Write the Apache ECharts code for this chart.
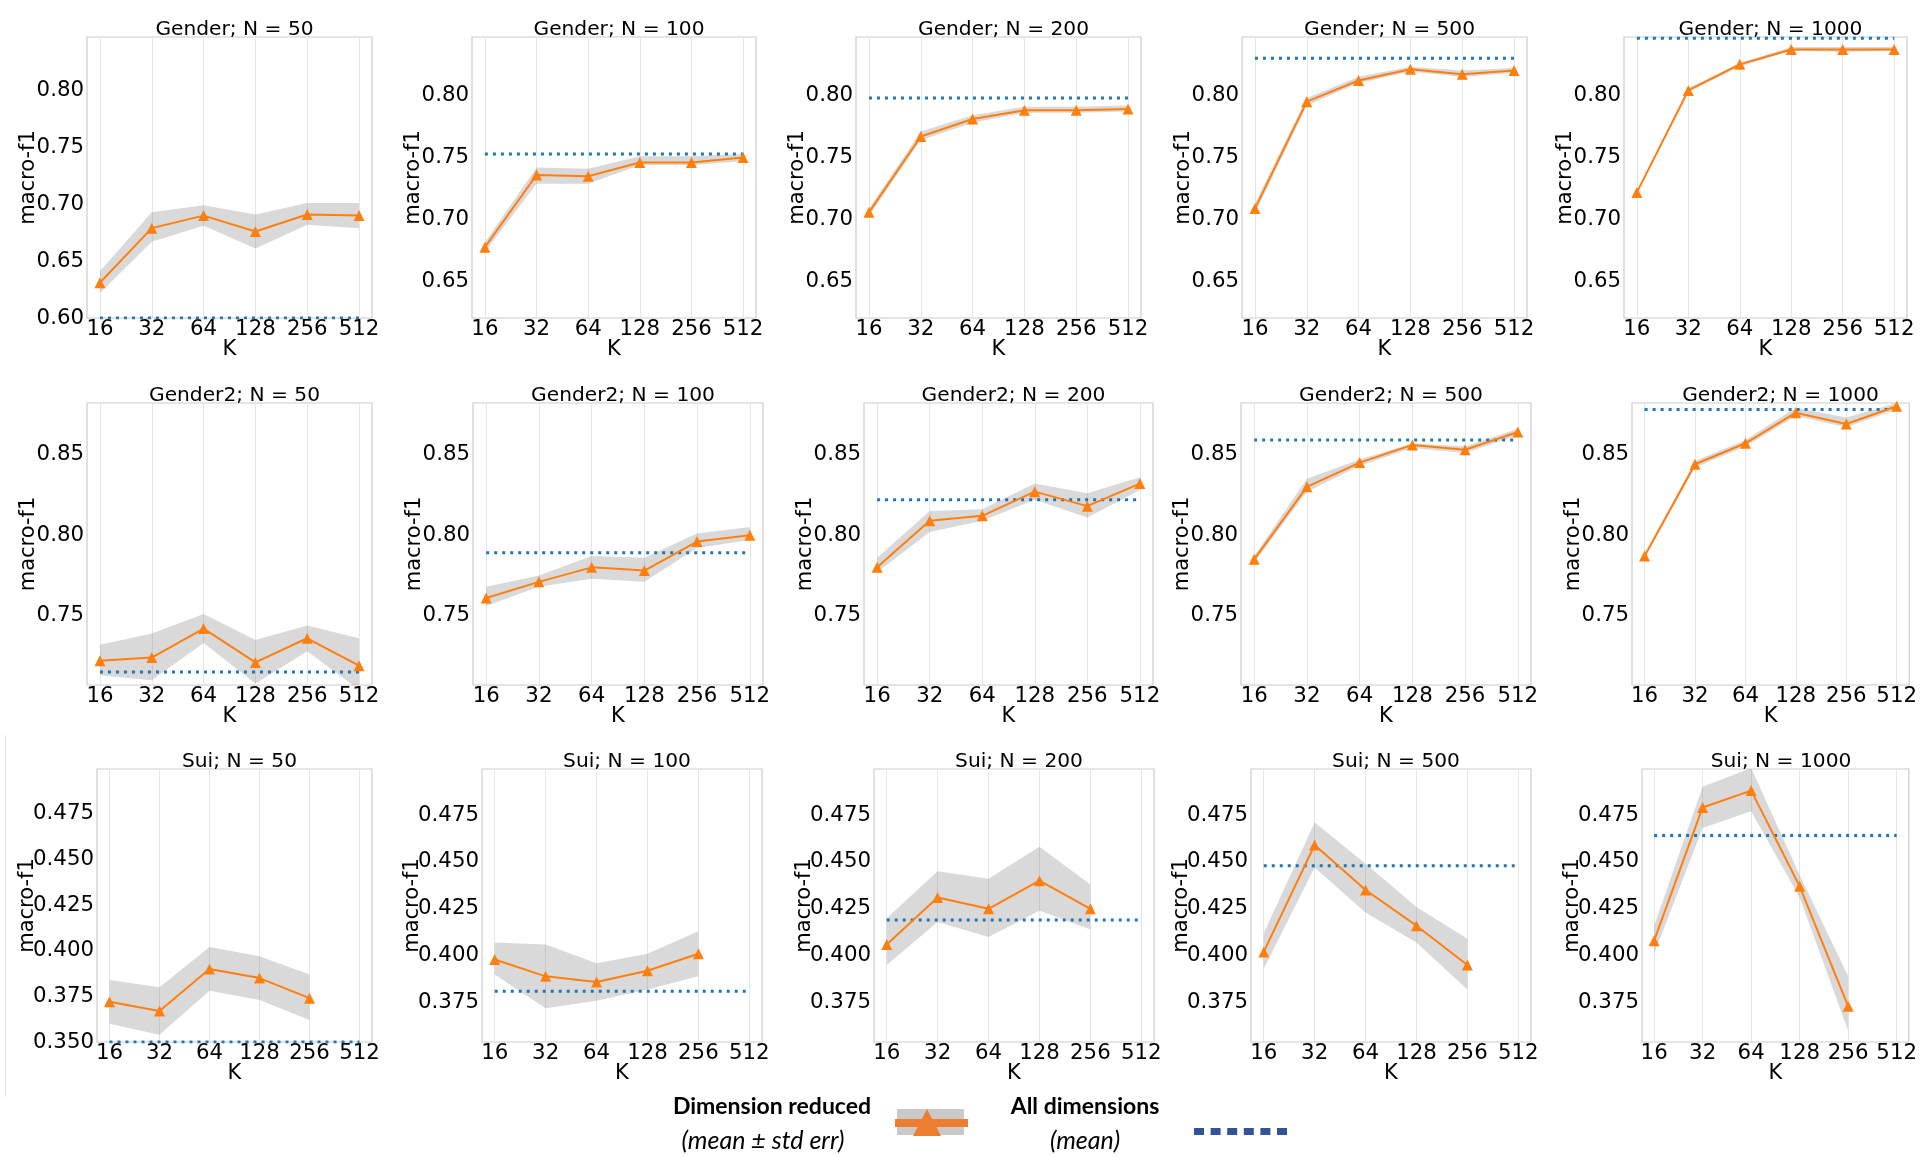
<!DOCTYPE html>
<html><head><meta charset="utf-8">
<script src="https://cdn.jsdelivr.net/npm/echarts@6/dist/echarts.min.js"></script>
<style>html,body{margin:0;padding:0;background:#fff}#chart{width:1920px;height:1157px}</style>
</head><body><div id="chart"></div>
<script>
// ---------------- data ----------------
const kValues = [16, 32, 64, 128, 256, 512];
const nValues = [50, 100, 200, 500, 1000];
const taskNames = ['Gender', 'Gender2', 'Sui'];

// Gender (rows = N 50,100,200,500,1000; cols = K)
const genderMean = [
  [0.631, 0.679, 0.690, 0.676, 0.691, 0.690],
  [0.678, 0.736, 0.735, 0.746, 0.746, 0.750],
  [0.706, 0.767, 0.781, 0.788, 0.788, 0.789],
  [0.709, 0.795, 0.812, 0.821, 0.817, 0.820],
  [0.722, 0.804, 0.825, 0.837, 0.837, 0.837]
];
const genderLow = [
  [0.622, 0.667, 0.681, 0.661, 0.682, 0.679],
  [0.674, 0.729, 0.729, 0.744, 0.744, 0.747],
  [0.703, 0.764, 0.778, 0.786, 0.786, 0.787],
  [0.705, 0.792, 0.810, 0.819, 0.815, 0.818],
  [0.721, 0.803, 0.823, 0.836, 0.835, 0.836]
];
const genderHigh = [
  [0.641, 0.693, 0.699, 0.691, 0.701, 0.701],
  [0.682, 0.742, 0.741, 0.751, 0.751, 0.753],
  [0.709, 0.771, 0.784, 0.791, 0.791, 0.792],
  [0.713, 0.798, 0.815, 0.823, 0.820, 0.822],
  [0.723, 0.806, 0.826, 0.839, 0.839, 0.839]
];
const genderAll = [0.600, 0.753, 0.798, 0.830, 0.846];

// Gender2
const gender2Mean = [
  [0.722, 0.724, 0.742, 0.721, 0.736, 0.719],
  [0.761, 0.771, 0.780, 0.778, 0.796, 0.800],
  [0.780, 0.809, 0.812, 0.827, 0.818, 0.832],
  [0.785, 0.830, 0.845, 0.856, 0.853, 0.864],
  [0.787, 0.844, 0.857, 0.876, 0.869, 0.880]
];
const gender2Low = [
  [0.713, 0.710, 0.733, 0.708, 0.728, 0.704],
  [0.756, 0.768, 0.773, 0.771, 0.792, 0.797],
  [0.777, 0.802, 0.809, 0.822, 0.811, 0.828],
  [0.783, 0.827, 0.843, 0.854, 0.851, 0.862],
  [0.786, 0.842, 0.855, 0.874, 0.867, 0.878]
];
const gender2High = [
  [0.732, 0.739, 0.751, 0.735, 0.744, 0.736],
  [0.768, 0.775, 0.787, 0.786, 0.801, 0.805],
  [0.786, 0.815, 0.816, 0.832, 0.826, 0.836],
  [0.787, 0.835, 0.847, 0.857, 0.855, 0.866],
  [0.788, 0.846, 0.859, 0.879, 0.873, 0.882]
];
const gender2All = [0.715, 0.789, 0.822, 0.859, 0.878];

// Sui (no value for K = 512)
const suiMean = [
  [0.372, 0.367, 0.390, 0.385, 0.374, null],
  [0.398, 0.389, 0.386, 0.392, 0.401, null],
  [0.406, 0.431, 0.425, 0.440, 0.425, null],
  [0.402, 0.459, 0.435, 0.416, 0.395, null],
  [0.408, 0.479, 0.488, 0.437, 0.373, null]
];
const suiLow = [
  [0.360, 0.354, 0.378, 0.373, 0.362, null],
  [0.390, 0.372, 0.376, 0.382, 0.389, null],
  [0.395, 0.418, 0.410, 0.424, 0.414, null],
  [0.393, 0.447, 0.423, 0.407, 0.382, null],
  [0.401, 0.468, 0.477, 0.431, 0.360, null]
];
const suiHigh = [
  [0.384, 0.380, 0.402, 0.397, 0.387, null],
  [0.407, 0.406, 0.396, 0.401, 0.413, null],
  [0.420, 0.445, 0.441, 0.458, 0.438, null],
  [0.412, 0.471, 0.449, 0.426, 0.409, null],
  [0.416, 0.490, 0.500, 0.443, 0.389, null]
];
const suiAll = [0.350, 0.381, 0.419, 0.448, 0.464];

// y axis ranges and tick labels per row
const yMinByPanel = [
  [0.600, 0.621, 0.621, 0.621, 0.621],
  [0.707, 0.707, 0.707, 0.707, 0.707],
  [0.350, 0.354, 0.354, 0.354, 0.354]
];
const yMaxByRow = [0.847, 0.882, 0.4995];
const yTickLabels = [
  [0.60, 0.65, 0.70, 0.75, 0.80],
  [0.75, 0.80, 0.85],
  [0.350, 0.375, 0.400, 0.425, 0.450, 0.475]
];
const yTickDecimals = [2, 2, 3];

// ---------------- layout ----------------
const rowTop = [37, 403, 769];
const rowHeight = [281, 282, 273];
const gridLeft = [[87, 472, 856, 1242, 1624], [87, 473, 864, 1241, 1632], [97, 482, 874, 1251, 1642]];
const gridWidth = [[285, 284, 285, 285, 283], [285, 290, 289, 290, 287], [275, 280, 280, 280, 268]];
const yNameGap = [48, 48, 59];

const rowsData = [
  {mean: genderMean, low: genderLow, high: genderHigh, all: genderAll},
  {mean: gender2Mean, low: gender2Low, high: gender2High, all: gender2All},
  {mean: suiMean, low: suiLow, high: suiHigh, all: suiAll}
];

const FONT = 'DejaVu Sans';
const TICK_FS = 21.3, NAME_FS = 21, TITLE_FS = 20.2;
const lg = v => Math.log2(v);
const xTickVals = kValues.map(lg);
const xMin = lg(kValues[0]) - 0.25, xMax = lg(kValues[kValues.length - 1]) + 0.25;

function bandRenderer(bandData) {
  return function (params, api) {
    if (params.dataIndex !== 0) return null;
    const upper = bandData.map(d => api.coord([d[0], d[2]]));
    const lower = bandData.map(d => api.coord([d[0], d[1]])).reverse();
    const cs = params.coordSys;
    return {
      type: 'polygon',
      shape: {points: upper.concat(lower)},
      style: {fill: 'rgba(128,128,128,0.3)'},
      clipPath: {type: 'rect', shape: {x: cs.x, y: cs.y, width: cs.width, height: cs.height}}
    };
  };
}

const grids = [], xAxes = [], yAxes = [], series = [], titles = [];
rowsData.forEach((rd, r) => {
  nValues.forEach((n, c) => {
    const i = r * 5 + c;
    const L = gridLeft[r][c], W = gridWidth[r][c];
    const yMin = yMinByPanel[r][c], yMax = yMaxByRow[r];
    grids.push({left: L, top: rowTop[r], width: W, height: rowHeight[r], show: true,
      borderColor: '#cccccc', borderWidth: 1.2, backgroundColor: 'transparent'});
    titles.push({text: taskNames[r] + '; N = ' + n, left: L + W / 2, top: rowTop[r] - 22, textAlign: 'center',
      textStyle: {fontFamily: FONT, fontSize: TITLE_FS, fontWeight: 'normal', color: '#000'}});
    xAxes.push({gridIndex: i, type: 'value', min: xMin, max: xMax,
      name: 'K', nameLocation: 'middle', nameGap: 21, nameMoveOverlap: false,
      nameTextStyle: {fontFamily: FONT, fontSize: NAME_FS, color: '#000'},
      axisLine: {show: false}, axisTick: {show: false, customValues: xTickVals},
      axisLabel: {customValues: xTickVals, margin: 1, fontFamily: FONT, fontSize: TICK_FS, color: '#000',
        formatter: v => { const k = Math.pow(2, v); return Math.abs(k - Math.round(k)) < 1e-6 ? String(Math.round(k)) : ''; }},
      splitLine: {show: true, lineStyle: {color: '#e6e6e6', width: 1}}});
    const yt = yTickLabels[r].filter(v => v >= yMin - 1e-9 && v <= yMax + 1e-9);
    const dec = yTickDecimals[r];
    yAxes.push({gridIndex: i, type: 'value', min: yMin, max: yMax,
      name: 'macro-f1', nameLocation: 'middle', nameGap: yNameGap[r], nameMoveOverlap: false,
      nameTextStyle: {fontFamily: FONT, fontSize: NAME_FS, color: '#000'},
      axisLine: {show: false}, axisTick: {show: false, customValues: yt},
      axisLabel: {customValues: yt, margin: 3, fontFamily: FONT, fontSize: TICK_FS, color: '#000',
        formatter: v => v.toFixed(dec)},
      splitLine: {show: false}});

    const mean = rd.mean[c], low = rd.low[c], high = rd.high[c];
    const idx = kValues.map((k, j) => j).filter(j => mean[j] !== null);
    const bandData = idx.map(j => [lg(kValues[j]), low[j], high[j]]);
    series.push({type: 'custom', xAxisIndex: i, yAxisIndex: i, silent: true, z: 1,
      encode: {x: 0, y: [1, 2]}, renderItem: bandRenderer(bandData), data: bandData});
    series.push({type: 'line', xAxisIndex: i, yAxisIndex: i, silent: true, symbol: 'none', z: 3,
      lineStyle: {color: '#1f77b4', width: 3, type: [3, 5], cap: 'butt'},
      data: [[lg(kValues[0]), rd.all[c]], [lg(kValues[kValues.length - 1]), rd.all[c]]]});
    series.push({type: 'line', xAxisIndex: i, yAxisIndex: i, silent: true, z: 4,
      symbol: 'triangle', symbolSize: 11, showSymbol: true,
      itemStyle: {color: '#ff7f0e'}, lineStyle: {color: '#ff7f0e', width: 2},
      data: idx.map(j => [lg(kValues[j]), mean[j]])});
  });
});

// ---------------- legend (drawn) ----------------
const LEG_FS = 23, LEG_IT_FS = 25;
const legendGraphics = [
  {type: 'line', shape: {x1: 5.5, y1: 735, x2: 5.5, y2: 1097}, style: {stroke: '#e6e6e6', lineWidth: 1}},
  {type: 'text', x: 772, y: 1107, style: {text: 'Dimension reduced', font: 'bold ' + LEG_FS + 'px Lato', fill: '#000', align: 'center', verticalAlign: 'middle'}},
  {type: 'text', x: 763, y: 1141, style: {text: '(mean \u00b1 std err)', font: 'italic ' + LEG_IT_FS + 'px Lato', fill: '#000', align: 'center', verticalAlign: 'middle'}},
  {type: 'rect', shape: {x: 897, y: 1109, width: 67, height: 26}, style: {fill: '#c9c9c9'}},
  {type: 'rect', shape: {x: 895, y: 1119, width: 73, height: 8}, style: {fill: '#ed7d31'}},
  {type: 'polygon', shape: {points: [[927, 1109], [941, 1136], [913, 1136]]}, style: {fill: '#ed7d31'}},
  {type: 'text', x: 1085, y: 1107, style: {text: 'All dimensions', font: 'bold ' + LEG_FS + 'px Lato', fill: '#000', align: 'center', verticalAlign: 'middle'}},
  {type: 'text', x: 1085, y: 1141, style: {text: '(mean)', font: 'italic ' + LEG_IT_FS + 'px Lato', fill: '#000', align: 'center', verticalAlign: 'middle'}}
];
for (let j = 0; j < 6; j++) {
  legendGraphics.push({type: 'rect', shape: {x: 1194 + j * 16.6, y: 1128, width: 10, height: 7}, style: {fill: '#2f5597'}});
}

const chart = echarts.init(document.getElementById('chart'), null, {renderer: 'canvas'});
chart.setOption({
  animation: false,
  backgroundColor: '#ffffff',
  title: titles,
  grid: grids,
  xAxis: xAxes,
  yAxis: yAxes,
  series: series,
  graphic: legendGraphics
});
</script>
</body></html>
